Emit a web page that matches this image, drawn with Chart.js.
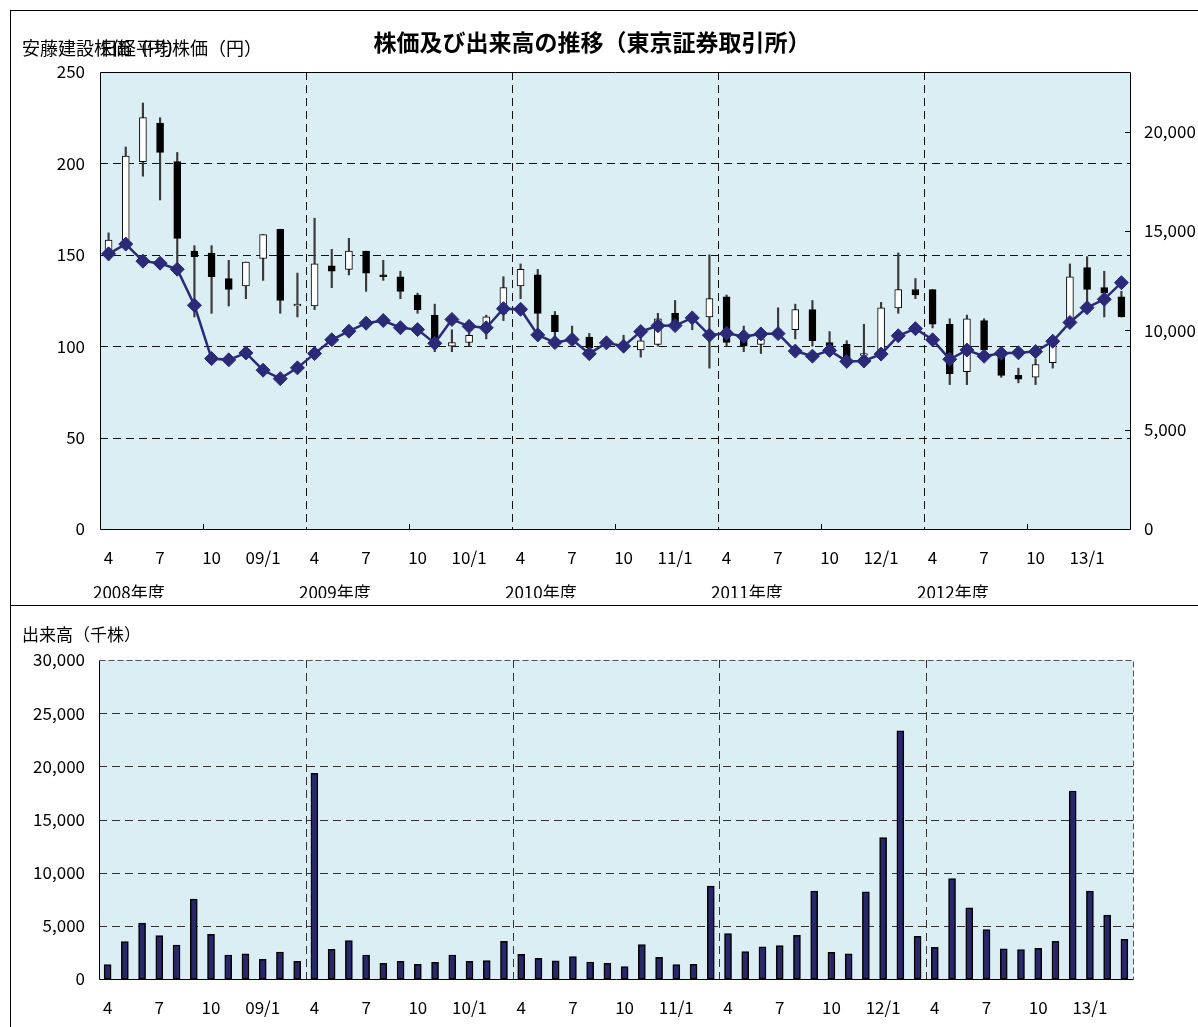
<!DOCTYPE html>
<html>
<head>
<meta charset="utf-8">
<script src="https://cdn.jsdelivr.net/npm/chart.js@4.4.0/dist/chart.umd.min.js"></script>
<style>
body{margin:0;background:#fff;width:1198px;height:1027px;overflow:hidden;position:relative}
canvas{position:absolute;left:0}
#Price{top:0}
#Vol{top:605px}
.ln{position:absolute;background:#000}
</style>
</head>
<body>
<div class="ln" style="left:10px;top:10px;width:1188px;height:1px"></div>
<div class="ln" style="left:10px;top:10px;width:1px;height:1017px"></div>
<div class="ln" style="left:10px;top:605px;width:1188px;height:1px"></div>
<canvas id="Price" width="1198" height="598"></canvas>
<canvas id="Vol" width="1198" height="422"></canvas>
<script>
// month ticks, Apr 2008 - Mar 2013
const monthLabels = ['4','','','7','','','10','','','09/1','','',
  '4','','','7','','','10','','','10/1','','',
  '4','','','7','','','10','','','11/1','','',
  '4','','','7','','','10','','','12/1','','',
  '4','','','7','','','10','','','13/1','','']
const fiscalYears = ['2008年度','2009年度','2010年度','2011年度','2012年度']
const nikkeiTicks = [0,5000,10000,15000,20000]

// 安藤建設 monthly candles (yen)
const opens  = [150,158,201,222,201,152,151,137,133,148,164,122, 122,144,142,152,139,138,128,117,100,102,112,118,
                133,139,117,103,105,102,100,98,101,118,116,116, 127,104,101,108,109,120,102,101,95,96,121,131,
                131,112,86,114,95,84,83,91,113,143,132,127]
const highs  = [162,209,233,225,206,155,155,147,146,161,164,140, 170,153,159,152,147,141,129,123,109,107,117,138,
                145,142,119,111,107,104,106,105,118,125,118,150, 128,111,108,121,123,125,108,103,112,124,151,137,
                131,115,117,115,98,88,93,104,145,149,141,130]
const lows   = [147,155,193,180,145,116,118,122,126,136,118,116, 120,132,139,130,136,126,118,97,97,100,104,114,
                126,109,103,101,97,99,97,94,100,110,109,88, 100,97,96,106,104,100,97,91,92,94,118,126,
                110,79,79,95,83,80,79,88,110,122,116,116]
const closes = [158,204,225,206,159,149,138,131,146,161,125,123, 145,141,152,140,138,130,120,103,102,106,116,132,
                142,118,108,104,99,101,101,103,115,112,115,126, 102,100,104,109,120,103,100,93,96,121,131,128,
                112,85,115,98,84,82,90,101,138,131,129,116]

// 日経平均 month-end (yen)
const nikkei = [13850,14339,13481,13377,13073,11260,8577,8512,8860,7994,7568,8110,
                8828,9523,9958,10357,10493,10133,10035,9346,10546,10198,10126,11090,
                11057,9769,9383,9537,8824,9369,9202,9937,10229,10238,10624,9755,
                9850,9694,9816,9833,8955,8700,8988,8435,8455,8803,9723,10084,
                9521,8543,9007,8695,8840,8870,8928,9446,10395,11139,11559,12398]

// 出来高 (thousand shares)
const volume = [1350,3520,5250,4080,3200,7510,4210,2260,2360,1850,2540,1670,
                19350,2800,3610,2260,1480,1670,1380,1570,2260,1670,1730,3550,
                2320,1950,1700,2100,1600,1480,1160,3240,2040,1350,1380,8730,
                4270,2580,3020,3140,4110,8260,2510,2360,8200,13290,23340,4020,
                2980,9450,6690,4650,2830,2760,2890,3550,17680,8260,6000,3740]

const FONT = '"Noto Sans CJK JP", "Noto Sans", sans-serif'
const NAVY = '#2B2A78'
const fmt = v => Number(v).toLocaleString('en-US')

// background, dashed grid, frame and free texts
const panel = {
  id: 'panel',
  beforeDraw(chart, args, opts) {
    const {ctx, chartArea: a} = chart
    ctx.save()
    ctx.fillStyle = '#DAEEF3'
    ctx.fillRect(a.left, a.top, a.right - a.left, a.bottom - a.top)
    ctx.restore()
  },
  beforeDatasetsDraw(chart, args, opts) {
    const {ctx, chartArea: a, scales} = chart
    const x = scales.x, y = scales.y
    ctx.save()
    ctx.strokeStyle = opts.gridColor
    ctx.lineWidth = 1
    ctx.setLineDash([8, 5])
    y.ticks.forEach(t => {
      if (t.value <= y.min || t.value >= y.max) return
      const py = Math.round(y.getPixelForValue(t.value)) + 0.5
      ctx.beginPath(); ctx.moveTo(a.left, py); ctx.lineTo(a.right, py); ctx.stroke()
    })
    const half = (x.getPixelForValue(1) - x.getPixelForValue(0)) / 2
    for (let i = 12; i < monthLabels.length; i += 12) {
      const px = Math.round(x.getPixelForValue(i) - half) + 0.5
      ctx.beginPath(); ctx.moveTo(px, a.top); ctx.lineTo(px, a.bottom); ctx.stroke()
    }
    ctx.setLineDash([])
    if (opts.minorTicks) {
      // small ticks every half year on the category axis
      ctx.strokeStyle = '#000'
      for (let i = 6; i < monthLabels.length; i += 12) {
        const px = Math.round(x.getPixelForValue(i) - half) + 0.5
        ctx.beginPath(); ctx.moveTo(px, a.bottom); ctx.lineTo(px, a.bottom - 5); ctx.stroke()
      }
      const y2 = scales.y2
      y2.ticks.forEach(t => {
        const py = Math.round(y2.getPixelForValue(t.value)) + 0.5
        ctx.beginPath(); ctx.moveTo(a.right, py); ctx.lineTo(a.right - 5, py); ctx.stroke()
      })
    }
    ctx.restore()
  },
  afterDraw(chart, args, opts) {
    const {ctx, chartArea: a, scales} = chart
    ctx.save()
    ctx.lineWidth = 1
    ctx.strokeStyle = '#000'
    const L = Math.round(a.left) + 0.5, R = Math.round(a.right) + 0.5
    const T = Math.round(a.top) + 0.5, B = Math.round(a.bottom) + 0.5
    ctx.beginPath(); ctx.moveTo(L, T); ctx.lineTo(L, B); ctx.lineTo(R, B); ctx.stroke()
    if (opts.dashedTopRight) {
      ctx.strokeStyle = '#555'
      ctx.setLineDash([6, 3])
    }
    ctx.beginPath(); ctx.moveTo(L, T); ctx.lineTo(R, T); ctx.lineTo(R, B); ctx.stroke()
    ctx.setLineDash([])
    ctx.fillStyle = '#000'
    ctx.textBaseline = 'middle'
    ;(opts.texts || []).forEach(t => {
      ctx.font = t.font
      ctx.textAlign = t.align || 'left'
      ctx.fillText(t.text, t.x, t.y)
    })
    if (opts.years) {
      const x = scales.x
      const half = (x.getPixelForValue(1) - x.getPixelForValue(0)) / 2
      ctx.font = '17px ' + FONT
      ctx.textAlign = 'left'
      fiscalYears.forEach((yr, k) => {
        ctx.fillText(yr, x.getPixelForValue(k * 12) - half - 7, 593)
      })
    }
    ctx.restore()
  }
}

const tickFont = {family: FONT, size: 17}
const noGrid = {display: false, drawTicks: false}

new Chart(document.getElementById('Price'), {
  type: 'bar',
  plugins: [panel],
  data: {
    labels: monthLabels,
    datasets: [
      {
        type: 'line', data: nikkei, yAxisID: 'y2', order: 0,
        borderColor: NAVY, borderWidth: 2.5, tension: 0,
        pointStyle: 'rectRot', pointRadius: 7, pointBorderWidth: 1,
        pointBackgroundColor: NAVY, pointBorderColor: NAVY
      },
      {
        data: opens.map((o, i) => [o, closes[i]]), yAxisID: 'y', order: 1,
        backgroundColor: opens.map((o, i) => closes[i] >= o ? '#fff' : '#000'),
        borderColor: '#000', borderWidth: 1, borderSkipped: false,
        barThickness: 7, grouped: false
      },
      {
        data: lows.map((l, i) => [l, highs[i]]), yAxisID: 'y', order: 2,
        backgroundColor: '#3a3a3a', borderWidth: 0,
        barThickness: 1.5, grouped: false
      }
    ]
  },
  options: {
    responsive: false,
    animation: false,
    layout: {padding: {top: 72, left: 0, right: 0, bottom: 0}},
    plugins: {
      legend: {display: false},
      tooltip: {enabled: false},
      panel: {
        gridColor: '#111',
        years: true,
        minorTicks: true,
        texts: [
          {text: '株価及び出来高の推移（東京証券取引所）', x: 592, y: 42, font: 'bold 23px ' + FONT, align: 'center'},
          {text: '安藤建設株価（円）', x: 22, y: 48, font: '18px ' + FONT},
          {text: '日経平均株価（円）', x: 100, y: 48, font: '18px ' + FONT}
        ]
      }
    },
    scales: {
      x: {
        offset: true, grid: noGrid, border: {display: false},
        ticks: {autoSkip: false, maxRotation: 0, padding: 18, color: '#000', font: tickFont},
        afterFit: s => { s.height = 69 }
      },
      y: {
        position: 'left', min: 0, max: 250, grid: noGrid, border: {display: false},
        ticks: {stepSize: 50, padding: 15, color: '#000', font: tickFont},
        afterFit: s => { s.width = 100 }
      },
      y2: {
        position: 'right', min: 0, max: 23000, grid: noGrid, border: {display: false},
        ticks: {padding: 14, color: '#000', font: tickFont, callback: fmt},
        afterBuildTicks: s => { s.ticks = nikkeiTicks.map(v => ({value: v})) },
        afterFit: s => { s.width = 68 }
      }
    }
  }
})

new Chart(document.getElementById('Vol'), {
  type: 'bar',
  plugins: [panel],
  data: {
    labels: monthLabels,
    datasets: [{
      data: volume,
      backgroundColor: '#27276A', borderColor: '#000', borderWidth: 1.5,
      borderSkipped: false, barThickness: 7
    }]
  },
  options: {
    responsive: false,
    animation: false,
    layout: {padding: {top: 55, left: 0, right: 65, bottom: 0}},
    plugins: {
      legend: {display: false},
      tooltip: {enabled: false},
      panel: {
        gridColor: '#333',
        dashedTopRight: true,
        texts: [{text: '出来高（千株）', x: 22, y: 30, font: '17px ' + FONT}]
      }
    },
    scales: {
      x: {
        offset: true, grid: noGrid, border: {display: false},
        ticks: {autoSkip: false, maxRotation: 0, padding: 18, color: '#000', font: tickFont},
        afterFit: s => { s.height = 48 }
      },
      y: {
        min: 0, max: 30000, grid: noGrid, border: {display: false},
        ticks: {stepSize: 5000, padding: 14, color: '#000', font: tickFont, callback: fmt},
        afterFit: s => { s.width = 99 }
      }
    }
  }
})
</script>
</body>
</html>
